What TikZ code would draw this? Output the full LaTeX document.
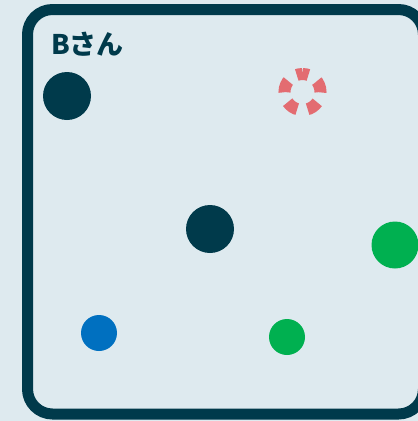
\documentclass[tikz,border=0pt]{standalone}
\usepackage{fontspec}
\newfontfamily\cjk{Noto Sans CJK JP}
\definecolor{bgc}{HTML}{DEEAEF}
\definecolor{darkc}{HTML}{003A4B}
\definecolor{redc}{HTML}{E36C71}
\definecolor{greenc}{HTML}{00B050}
\definecolor{bluec}{HTML}{0070C0}
\tikzset{
  dot/.style={circle, inner sep=0pt, draw=none, fill=#1},
}
\begin{document}
\begin{tikzpicture}[x=1pt,y=-1pt]
\clip (0,0) rectangle (418,421);
\fill[bgc] (0,0) rectangle (418,421);
\draw[darkc, line width=11pt, rounded corners=25pt] (27.5,9.5) rectangle (423.5,414);
\node[anchor=base west, text=darkc, inner sep=0pt, font=\cjk\bfseries\fontsize{27}{30}\selectfont] (title) at (51,54) {Bさん};
\node[dot=darkc, minimum size=48pt] (d1) at (67,96) {};
\node[dot=darkc, minimum size=48pt] (d2) at (210,229) {};
\node[dot=greenc, minimum size=47pt] (g1) at (395,245) {};
\node[dot=bluec, minimum size=36pt] (b1) at (99,333) {};
\node[dot=greenc, minimum size=36pt] (g2) at (287,337) {};
\coordinate (r1) at (302.5,92);
\draw[redc, line width=12pt, dash pattern=on 12pt off 10.62pt, dash phase=6pt] ([yshift=18pt]r1) arc[start angle=90, end angle=-270, radius=18pt];
\end{tikzpicture}
\end{document}
